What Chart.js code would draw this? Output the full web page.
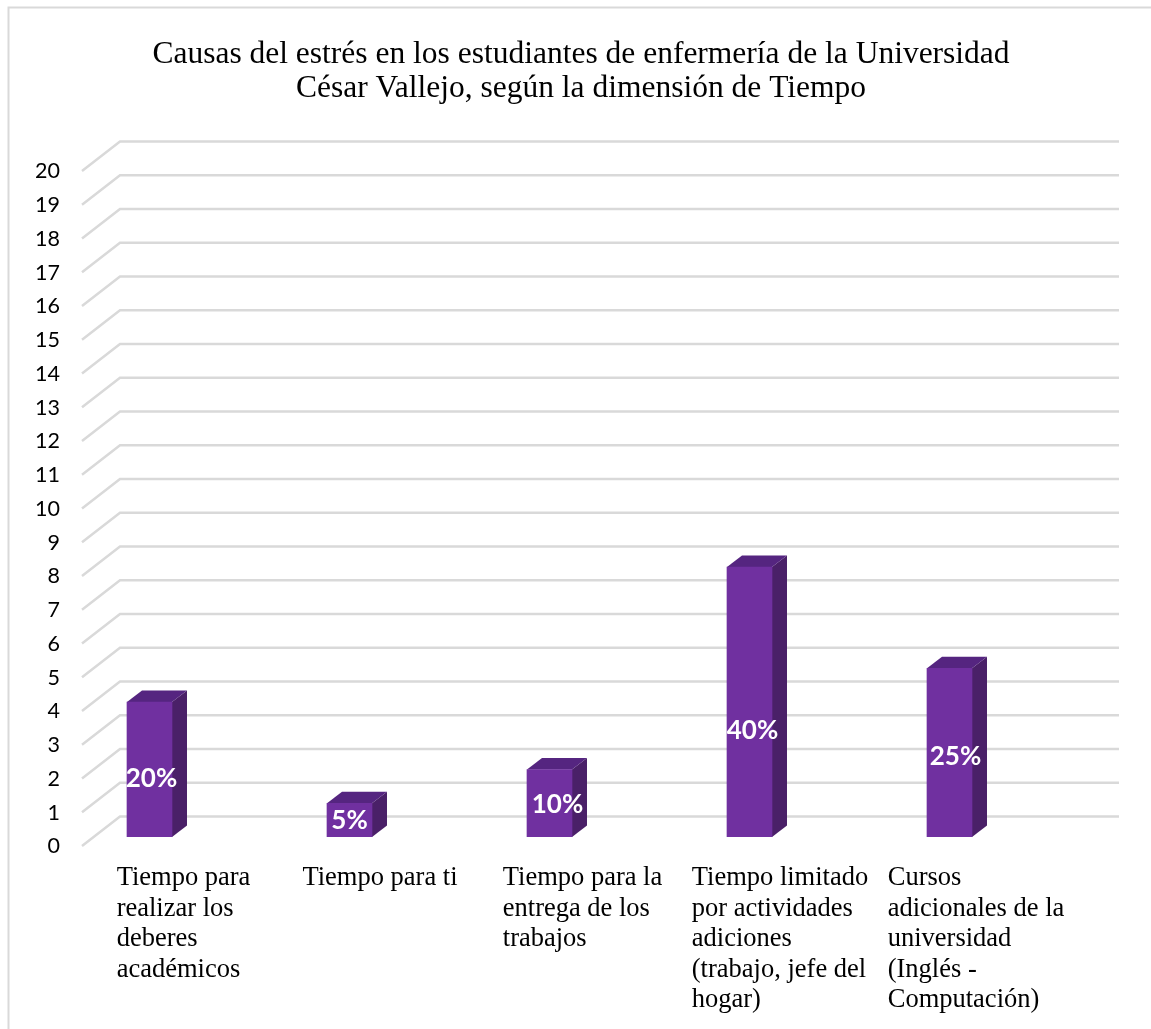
<!DOCTYPE html>
<html>
<head>
<meta charset="utf-8">
<title>Causas del estrés</title>
<script src="https://cdn.jsdelivr.net/npm/chart.js@4"></script>
<style>
  html, body { margin: 0; padding: 0; background: #fff; }
  #wrap { width: 1151px; height: 1029px; }
</style>
</head>
<body>
<div id="wrap"><canvas id="chart"></canvas></div>
<script>
// data
const titleLines = ['Causas del estrés en los estudiantes de enfermería de la Universidad', 'César Vallejo, según la dimensión de Tiempo'];
const categories = [
  ['Tiempo para', 'realizar los', 'deberes', 'académicos'],
  ['Tiempo para ti'],
  ['Tiempo para la', 'entrega de los', 'trabajos'],
  ['Tiempo limitado', 'por actividades', 'adiciones', '(trabajo, jefe del', 'hogar)'],
  ['Cursos', 'adicionales de la', 'universidad', '(Inglés -', 'Computación)']
];
const values = [4, 1, 2, 8, 5];
const percentLabels = ['20%', '5%', '10%', '40%', '25%'];
const yTicksMax = 20;

// hand placed labels, the original has them off centre
const percentAnchorY = [1.72, 0.5, 0.95, 3.16, 2.37];
const percentShiftX = [2, 0, 8, 3, 6];
const categoryShiftX = [2.5, -1, 1.5, -1, -5];

const gridColor = '#d9d9d9';
const barFront = '#7030a0';
const barSide = '#4a2068';
const barTop = '#552580';
const depthX = 15, depthY = 11.5;

// draws the box walls and the 3d sides of the bars
const walls = {
  id: 'walls',
  beforeDraw(chart) {
    const ctx = chart.ctx;
    ctx.save();
    ctx.strokeStyle = gridColor;
    ctx.lineWidth = 2;
    ctx.beginPath();
    ctx.moveTo(8.5, 1029);
    ctx.lineTo(8.5, 7.5);
    ctx.lineTo(1151, 7.5);
    ctx.stroke();
    ctx.restore();
  },
  beforeDatasetsDraw(chart) {
    const ctx = chart.ctx, y = chart.scales.y, area = chart.chartArea;
    ctx.save();
    ctx.strokeStyle = gridColor;
    ctx.lineWidth = 2.5;
    y.ticks.forEach(t => {
      const py = y.getPixelForValue(t.value);
      ctx.beginPath();
      ctx.moveTo(area.left + 1, py + 9);
      ctx.lineTo(area.left + 39, py - 20.5);
      ctx.lineTo(area.right + 38, py - 20.5);
      ctx.stroke();
    });
    ctx.restore();

    // side and top faces, the front face is the real bar
    ctx.save();
    chart.getDatasetMeta(0).data.forEach(bar => {
      const l = bar.x - bar.width / 2, r = bar.x + bar.width / 2;
      ctx.fillStyle = barSide;
      ctx.beginPath();
      ctx.moveTo(r, bar.y);
      ctx.lineTo(r + depthX, bar.y - depthY);
      ctx.lineTo(r + depthX, bar.base - depthY);
      ctx.lineTo(r, bar.base);
      ctx.closePath();
      ctx.fill();
      ctx.fillStyle = barTop;
      ctx.beginPath();
      ctx.moveTo(l, bar.y);
      ctx.lineTo(l + depthX, bar.y - depthY);
      ctx.lineTo(r + depthX, bar.y - depthY);
      ctx.lineTo(r, bar.y);
      ctx.closePath();
      ctx.fill();
    });
    ctx.restore();
  },
  afterDraw(chart) {
    const ctx = chart.ctx, x = chart.scales.x, y = chart.scales.y;
    ctx.save();

    // percent labels
    ctx.font = 'bold 26px Lato';
    ctx.fillStyle = '#ffffff';
    ctx.textAlign = 'center';
    ctx.textBaseline = 'middle';
    chart.getDatasetMeta(0).data.forEach((bar, i) => {
      ctx.fillText(percentLabels[i], bar.x + percentShiftX[i], y.getPixelForValue(percentAnchorY[i]));
    });

    // category labels: block centred on the category, lines left aligned
    ctx.font = '26.5px "Liberation Serif"';
    ctx.fillStyle = '#000000';
    ctx.textAlign = 'left';
    categories.forEach((lines, i) => {
      const w = Math.max(...lines.map(s => ctx.measureText(s).width));
      const left = x.getPixelForValue(i) - w / 2 + categoryShiftX[i];
      lines.forEach((s, j) => ctx.fillText(s, left, y.bottom + 41 + j * 30.6));
    });
    ctx.restore();
  }
};

const barShift = 0.1575;

new Chart(document.getElementById('chart'), {
  type: 'bar',
  data: {
    datasets: [{
      data: values.map((v, i) => ({ x: i - barShift, y: v })),
      backgroundColor: barFront,
      barThickness: 45
    }]
  },
  options: {
    responsive: true,
    maintainAspectRatio: false,
    animation: false,
    layout: { padding: { left: 9, right: 70, top: 0, bottom: 192 } },
    plugins: {
      legend: { display: false },
      tooltip: { enabled: false },
      title: {
        display: true,
        fullSize: false,
        text: titleLines,
        color: '#000000',
        font: { family: '"Liberation Serif"', size: 31.5, weight: 'normal', lineHeight: 1.08 },
        padding: { top: 37.5, bottom: 56.5 }
      }
    },
    scales: {
      x: { type: 'linear', display: false, offset: false, min: -0.5, max: 4.5 },
      y: {
        min: 0,
        max: yTicksMax,
        afterFit(scale) { scale.width = 72; },
        grid: { display: false, drawTicks: false },
        border: { display: false },
        ticks: {
          stepSize: 1,
          padding: 21,
          labelOffset: 9.5,
          color: '#000000',
          font: { family: 'Lato', size: 21.5 }
        }
      }
    }
  },
  plugins: [walls]
});
</script>
</body>
</html>
